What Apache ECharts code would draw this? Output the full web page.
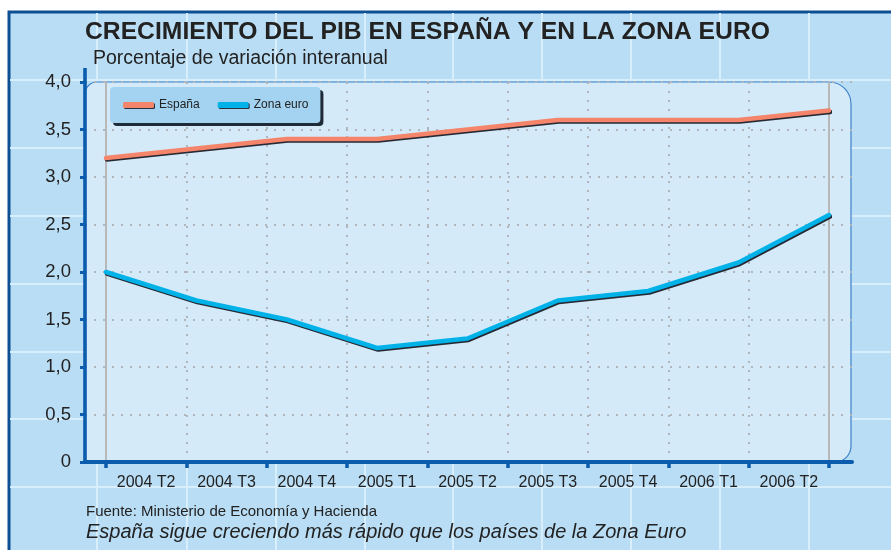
<!DOCTYPE html>
<html>
<head>
<meta charset="utf-8">
<script src="https://cdn.jsdelivr.net/npm/echarts@6/dist/echarts.min.js"></script>
<style>html,body{margin:0;padding:0;background:#fff}#c{width:891px;height:550px}</style>
</head>
<body>
<div id="c"></div>
<script>
var categories = ['2004 T2','2004 T3','2004 T4','2005 T1','2005 T2','2005 T3','2005 T4','2006 T1','2006 T2'];
var espana = [3.2, 3.3, 3.4, 3.4, 3.5, 3.6, 3.6, 3.6, 3.7];
var zonaEuro = [2.0, 1.7, 1.5, 1.2, 1.3, 1.7, 1.8, 2.1, 2.6];
var seriesNames = ['España', 'Zona euro'];

var BLUE = '#0b5cad';
var FONT = 'Liberation Sans, Arial, sans-serif';

function pts(arr){ return arr.map(function(v,i){ return [i, v]; }); }

var gfx = [];
// outer background + frame
gfx.push({type:'rect', z:-20, shape:{x:9, y:12, width:900, height:560}, style:{fill:'#b9ddf4', stroke:'#0d4f93', lineWidth:3}});
// light pattern lines
var vx = [97,187,276,365,453,542,631,720,809];
vx.forEach(function(x){ gfx.push({type:'line', z:-19, shape:{x1:x,y1:13,x2:x,y2:550}, style:{stroke:'#d9eefb', lineWidth:2}}); });
var hy = [80,148,216,284,352,419,487];
hy.forEach(function(y){ gfx.push({type:'line', z:-19, shape:{x1:10,y1:y,x2:891,y2:y}, style:{stroke:'#d9eefb', lineWidth:2}}); });
// plot panel
gfx.push({type:'rect', z:-18, shape:{x:85, y:82, width:766, height:380, r:[12,22,16,0]}, style:{fill:'#d4eaf8', stroke:'#3d82cb', lineWidth:1.2}});
// y axis extension above top
gfx.push({type:'rect', z:5, shape:{x:83.2, y:68, width:3.6, height:15}, style:{fill:BLUE}});
// footer texts
gfx.push({type:'text', z:5, left:86, top:504, style:{text:'Fuente: Ministerio de Economía y Hacienda', font:'15px ' + FONT, fill:'#222'}});
gfx.push({type:'text', z:5, left:86, top:522, style:{text:'España sigue creciendo más rápido que los países de la Zona Euro', font:'italic 20px ' + FONT, fill:'#222'}});

var option = {
  animation: false,
  title: [
    {text:'CRECIMIENTO DEL PIB EN ESPAÑA Y EN LA ZONA EURO', left:85, top:20, padding:0,
     textStyle:{fontFamily:FONT, fontSize:24.7, fontWeight:'bold', color:'#222'}},
    {text:'Porcentaje de variación interanual', left:93, top:49, padding:0,
     textStyle:{fontFamily:FONT, fontSize:19.5, fontWeight:'normal', color:'#222'}}
  ],
  legend: {
    data: seriesNames,
    left: 110, top: 87,
    padding: [12, 12, 12, 13],
    itemWidth: 31, itemHeight: 6, itemGap: 18,
    icon: 'roundRect',
    backgroundColor: '#a3d3f1',
    borderRadius: 4,
    shadowColor: '#1e2a38', shadowOffsetX: 3, shadowOffsetY: 3, shadowBlur: 0,
    itemStyle: {shadowColor: 'rgba(20,20,30,0.85)', shadowOffsetX: 1, shadowOffsetY: 1, shadowBlur: 0},
    textStyle: {fontFamily: FONT, fontSize: 12, color: '#222'}
  },
  grid: [
    {left:85, right:39, top:82, bottom:88},
    {left:106, right:62, top:82, bottom:88}
  ],
  xAxis: [
    {gridIndex:0, type:'value', min:0, max:1, axisLine:{show:true, lineStyle:{color:BLUE, width:4}},
     axisTick:{show:false}, axisLabel:{show:false}, splitLine:{show:false}},
    {gridIndex:1, type:'category', data:categories, boundaryGap:true,
     axisLine:{show:false}, axisTick:{show:true, length:6, lineStyle:{color:BLUE, width:3.5}},
     axisLabel:{interval:0, margin:13, fontFamily:FONT, fontSize:16, color:'#222'},
     splitLine:{show:true, interval:0, lineStyle:{color:'#b1b6bc', width:2, type:[2,7]}}},
    {gridIndex:1, type:'value', min:0, max:categories.length-1, show:false}
  ],
  yAxis: [
    {gridIndex:0, type:'value', min:0, max:4, interval:0.5,
     axisLine:{show:true, lineStyle:{color:BLUE, width:3.6}},
     axisTick:{show:true, length:5, lineStyle:{color:BLUE, width:3}},
     axisLabel:{margin:14, fontFamily:FONT, fontSize:18.5, color:'#222',
       formatter:function(v){ return v === 0 ? '0' : v.toFixed(1).replace('.', ','); }},
     splitLine:{show:true, lineStyle:{color:'#b1b6bc', width:2, type:[2,7]}}},
    {gridIndex:1, type:'value', min:0, max:4, position:'left',
     axisLine:{show:true, lineStyle:{color:'#b8b8b8', width:2}}, axisTick:{show:false}, axisLabel:{show:false}, splitLine:{show:false}},
    {gridIndex:1, type:'value', min:0, max:4, position:'right',
     axisLine:{show:true, lineStyle:{color:'#b8b8b8', width:2}}, axisTick:{show:false}, axisLabel:{show:false}, splitLine:{show:false}}
  ],
  series: [
    {name:seriesNames[0], type:'line', xAxisIndex:2, yAxisIndex:1, data:pts(espana), symbol:'none', z:3,
     itemStyle:{color:'#f4846a'},
     lineStyle:{color:'#f4846a', width:4.5, cap:'round', shadowColor:'rgba(20,20,30,0.9)', shadowOffsetX:1, shadowOffsetY:1.5, shadowBlur:0}},
    {name:seriesNames[1], type:'line', xAxisIndex:2, yAxisIndex:1, data:pts(zonaEuro), symbol:'none', z:3,
     itemStyle:{color:'#00b2e8'},
     lineStyle:{color:'#00b2e8', width:4.5, cap:'round', shadowColor:'rgba(20,20,30,0.9)', shadowOffsetX:1, shadowOffsetY:1.5, shadowBlur:0}}
  ],
  graphic: gfx
};
var chart = echarts.init(document.getElementById('c'), null, {renderer:'canvas'});
chart.setOption(option);
</script>
</body>
</html>
